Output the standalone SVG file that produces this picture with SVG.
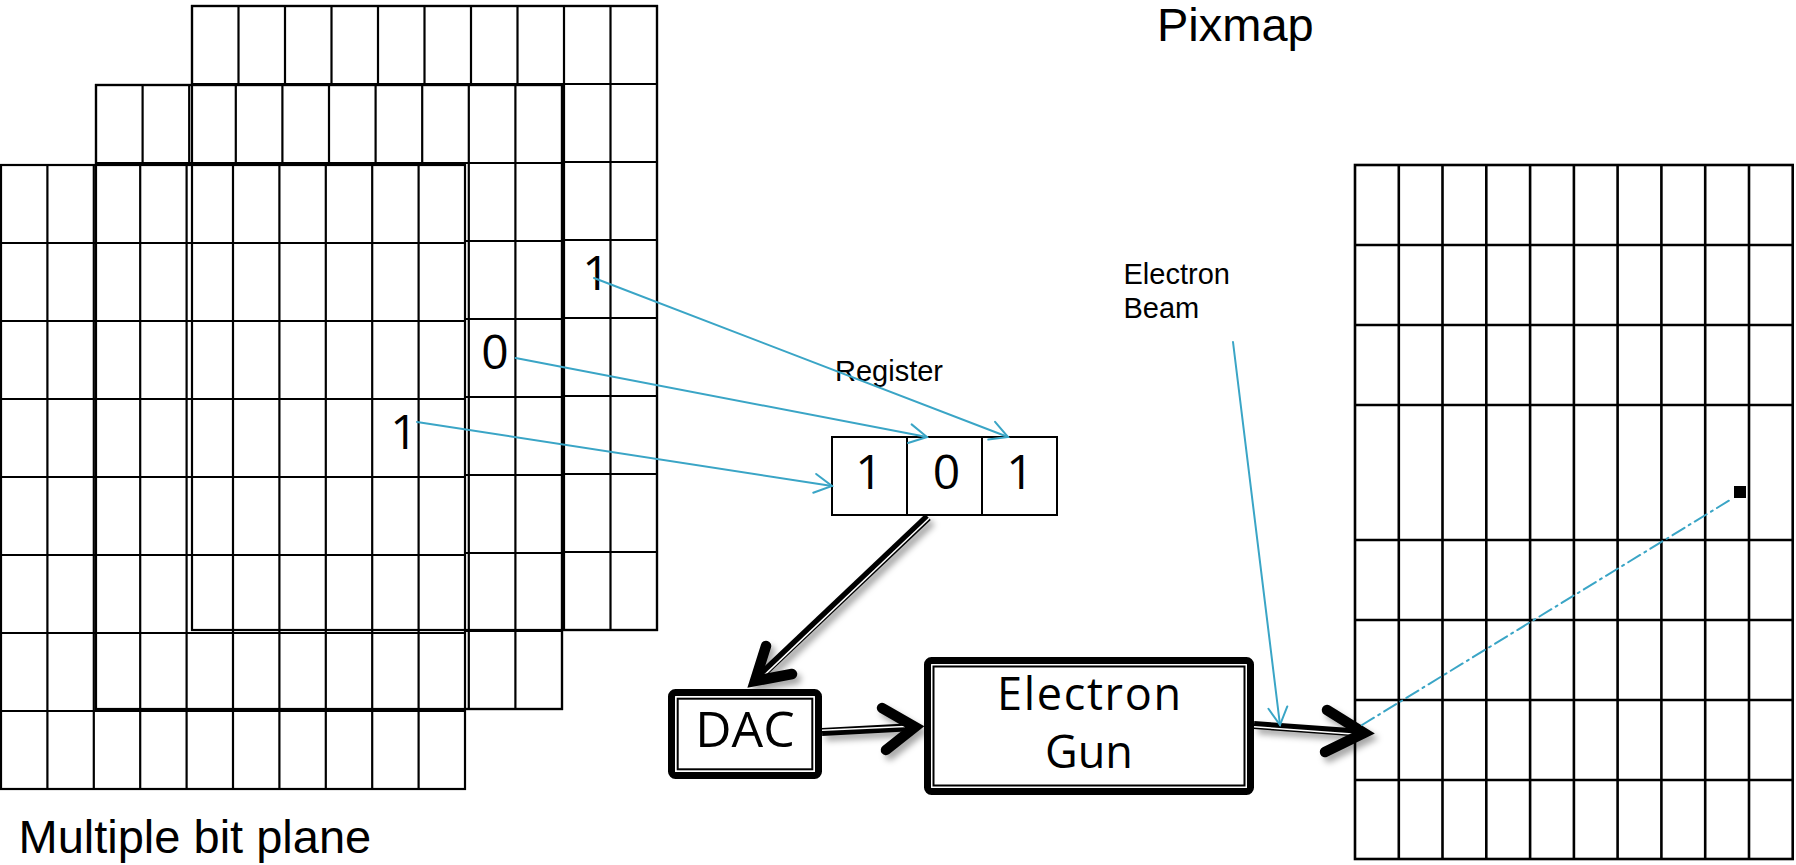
<svg xmlns="http://www.w3.org/2000/svg" width="1796" height="865" viewBox="0 0 1796 865">
<defs>
<style>
.bg{fill:#fff;stroke:#000;stroke-width:2.2}
.grid{fill:none;stroke:#000;stroke-width:2.2}
.outline{fill:none;stroke:#000;stroke-width:2.2}
.pix{fill:none;stroke:#000;stroke-width:2.6}
.digit{font-family:"Open Sans","Noto Sans",sans-serif;font-size:48px;fill:#000;text-anchor:middle}
.label{font-family:"Liberation Sans",Arial,sans-serif;fill:#000}
.boxtext{font-family:"Open Sans","Noto Sans",sans-serif;fill:#000;text-anchor:middle}
.thick{fill:#fff;stroke:#000;stroke-width:7;stroke-linejoin:round}
.thin{fill:none;stroke:#000;stroke-width:2}
.cyan{fill:none;stroke:#3AA5C6;stroke-width:2;stroke-linecap:round}
.shaft{stroke:#000;stroke-width:8}
.gap{stroke:#fff;stroke-width:1.5}
.head{fill:none;stroke:#000;stroke-width:10.5;stroke-linecap:round;stroke-linejoin:miter;stroke-miterlimit:10}
</style>
<marker id="ah" markerUnits="userSpaceOnUse" orient="auto" refX="0" refY="0" markerWidth="40" markerHeight="40" overflow="visible">
<path d="M-17.5,-9.5 L0,0 L-17.5,9.5" fill="none" stroke="#3AA5C6" stroke-width="2" stroke-linecap="round" stroke-linejoin="miter"/>
</marker>
<filter id="shadow" x="-20%" y="-20%" width="140%" height="140%">
<feDropShadow dx="4" dy="5" stdDeviation="3" flood-color="#000" flood-opacity="0.35"/>
</filter>
</defs>
<rect width="1796" height="865" fill="#fff"/>

<g id="plane-back">
<rect class="bg" x="192" y="6" width="465" height="624"/>
<path class="grid" d="M238.5,6V630M285,6V630M331.5,6V630M378,6V630M424.5,6V630M471,6V630M517.5,6V630M564,6V630M610.5,6V630M192,84H657M192,162H657M192,240H657M192,318H657M192,396H657M192,474H657M192,552H657"/>
</g>
<g id="plane-middle">
<rect class="bg" x="96" y="85" width="466" height="624"/>
<path class="grid" d="M142.6,85V709M189.2,85V709M235.8,85V709M282.4,85V709M329,85V709M375.6,85V709M422.2,85V709M468.8,85V709M515.4,85V709M96,163H562M96,241H562M96,319H562M96,397H562M96,475H562M96,553H562M96,631H562"/>
</g>
<g id="plane-front">
<rect class="bg" x="1" y="165" width="464" height="624"/>
<path class="grid" d="M47.4,165V789M93.8,165V789M140.2,165V789M186.6,165V789M233,165V789M279.4,165V789M325.8,165V789M372.2,165V789M418.6,165V789M1,243H465M1,321H465M1,399H465M1,477H465M1,555H465M1,633H465M1,711H465"/>
</g>
<g id="plane-outlines">
<rect class="outline" x="192" y="6" width="465" height="624"/>
<rect class="outline" x="96" y="85" width="466" height="624"/>
</g>
<g id="plane-bits">
<text class="digit" x="596" y="290">1</text>
<text class="digit" x="495" y="369">0</text>
<text class="digit" x="404" y="449">1</text>
</g>
<g id="label-planes">
<text class="label" x="18.5" y="853" font-size="47">Multiple bit plane</text>
</g>

<g id="pixmap">
<rect class="pix" x="1355" y="165" width="437.7" height="694"/>
<path class="pix" d="M1398.8,165V859M1442.5,165V859M1486.3,165V859M1530.1,165V859M1573.9,165V859M1617.6,165V859M1661.4,165V859M1705.2,165V859M1749,165V859M1355,245H1792.7M1355,325H1792.7M1355,405H1792.7M1355,540H1792.7M1355,620H1792.7M1355,700H1792.7M1355,780H1792.7"/>
<rect x="1734" y="486" width="12" height="12" fill="#000"/>
</g>
<g id="label-pixmap">
<text class="label" x="1157" y="41" font-size="47">Pixmap</text>
</g>

<g id="register">
<rect x="832" y="437" width="225" height="78" fill="#fff" stroke="#000" stroke-width="2"/>
<path d="M907,437V515M982,437V515" stroke="#000" stroke-width="2"/>
<text class="digit" x="869" y="489">1</text>
<text class="digit" x="946.5" y="489">0</text>
<text class="digit" x="1020" y="489">1</text>
</g>
<g id="label-register">
<text class="label" x="835" y="381" font-size="29">Register</text>
</g>

<g id="dac">
<rect class="thick" x="671.5" y="692.5" width="147" height="83" rx="4"/>
<rect class="thin" x="677.7" y="698.7" width="134.6" height="70.6"/>
<text class="boxtext" x="745" y="747" font-size="50">DAC</text>
</g>

<g id="electron-gun">
<rect class="thick" x="927.5" y="660.5" width="323" height="131" rx="4"/>
<rect class="thin" x="933.5" y="666.5" width="311" height="119"/>
<text class="boxtext" x="1089" y="710" font-size="45" textLength="184" lengthAdjust="spacing">Electron</text>
<text class="boxtext" x="1089" y="768" font-size="45">Gun</text>
</g>

<g id="label-beam">
<text class="label" x="1123.5" y="284" font-size="29">Electron</text>
<text class="label" x="1123.5" y="318" font-size="29">Beam</text>
</g>

<g id="connectors">
<g id="thick-arrows" filter="url(#shadow)">
<line class="shaft" x1="928" y1="517" x2="757" y2="679"/>
<line class="gap" x1="929.2" y1="518.3" x2="762" y2="677.4"/>
<path class="head" d="M766,646 L755,681 L792,674"/>
<line class="shaft" x1="822" y1="732" x2="915" y2="727"/>
<line class="gap" x1="822" y1="730.25" x2="905" y2="726.6"/>
<path class="head" d="M882,708 L915,727 L886,750"/>
<line class="shaft" x1="1254" y1="725" x2="1364" y2="733"/>
<line class="gap" x1="1254" y1="726.75" x2="1352" y2="733.9"/>
<path class="head" d="M1327,710 L1364,733 L1325,752"/>
</g>
<line class="cyan" x1="594" y1="278" x2="1008" y2="437" marker-end="url(#ah)"/>
<line class="cyan" x1="515.6" y1="358" x2="927" y2="437" marker-end="url(#ah)"/>
<line class="cyan" x1="417" y1="422" x2="832" y2="486" marker-end="url(#ah)"/>
<line class="cyan" x1="1233" y1="342" x2="1280" y2="725" marker-end="url(#ah)"/>
<line class="cyan" x1="1362" y1="725" x2="1730" y2="500" stroke-dasharray="14 5 2 5" stroke-linecap="butt"/>
</g>
</svg>
